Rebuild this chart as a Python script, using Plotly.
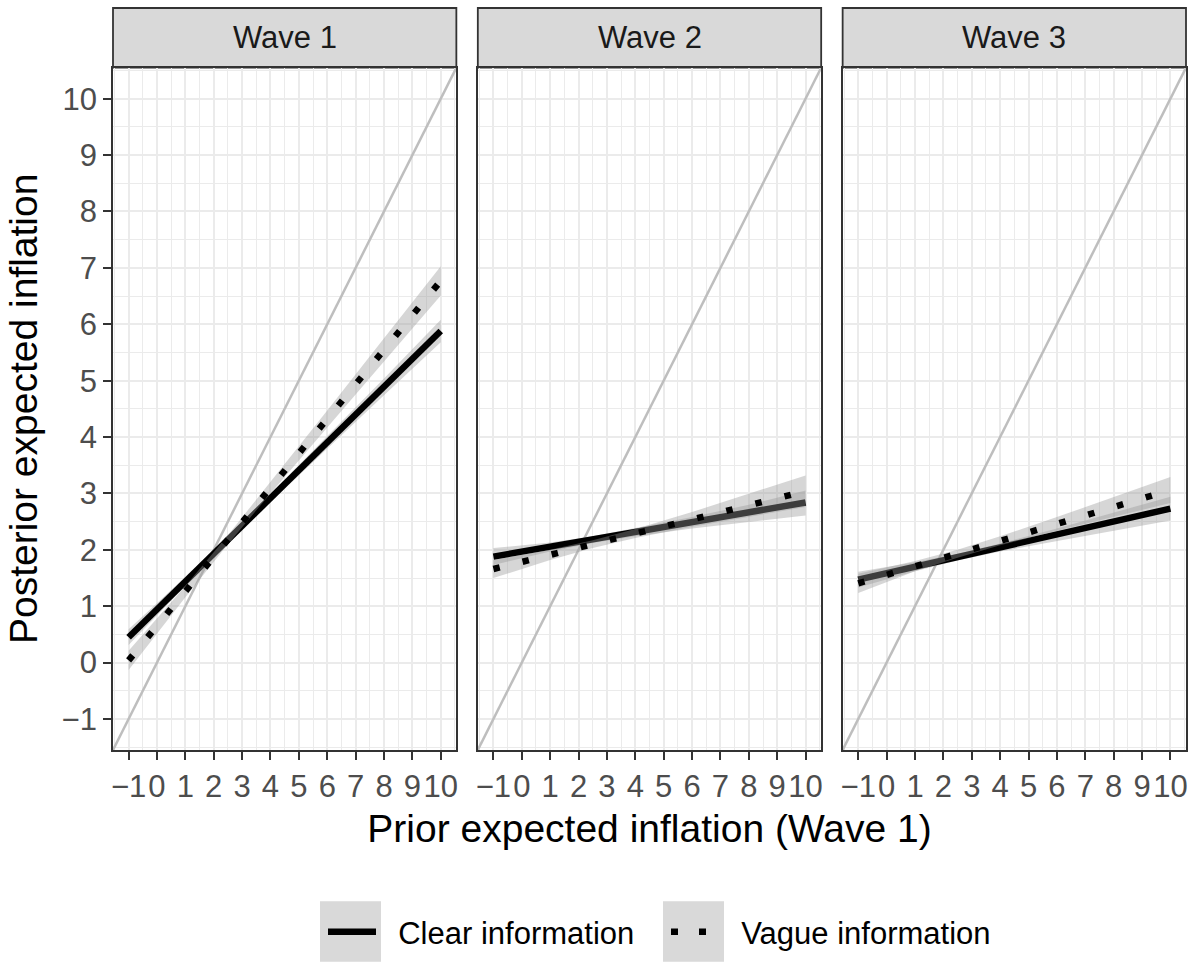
import plotly.graph_objects as go

# ---------------- data ----------------
waves = ["Wave 1", "Wave 2", "Wave 3"]
series_names = ["Clear information", "Vague information"]
x_ticks = [-1, 0, 1, 2, 3, 4, 5, 6, 7, 8, 9, 10]
y_ticks = [-1, 0, 1, 2, 3, 4, 5, 6, 7, 8, 9, 10]

# fitted lines (linear smooth) at the ends of the data range
fit_x = [-1, 10]
w1_clear = [0.45, 5.88]
w1_vague = [0.04, 6.77]
w2_clear = [1.88, 2.84]
w2_vague = [1.66, 3.04]
w3_clear = [1.47, 2.73]
w3_vague = [1.405, 3.06]

# confidence bands
band_x = [-1, 1, 2.5, 4, 6, 8, 10]
w1_clear_lo = [0.31, 1.36, 2.12, 2.85, 3.80, 4.74, 5.68]
w1_clear_hi = [0.59, 1.52, 2.24, 2.99, 4.02, 5.04, 6.08]
w1_vague_lo = [-0.13, 1.16, 2.10, 3.00, 4.17, 5.35, 6.51]
w1_vague_hi = [0.21, 1.36, 2.26, 3.20, 4.47, 5.75, 7.03]
w2_clear_lo = [1.73, 1.97, 2.12, 2.24, 2.38, 2.50, 2.61]
w2_clear_hi = [2.03, 2.13, 2.24, 2.38, 2.58, 2.80, 3.05]
w2_vague_lo = [1.50, 1.82, 2.03, 2.21, 2.41, 2.59, 2.76]
w2_vague_hi = [1.82, 2.00, 2.17, 2.37, 2.67, 2.99, 3.32]
w3_clear_lo = [1.33, 1.62, 1.81, 1.97, 2.16, 2.34, 2.52]
w3_clear_hi = [1.61, 1.78, 1.93, 2.11, 2.38, 2.66, 2.94]
w3_vague_lo = [1.235, 1.62, 1.86, 2.08, 2.34, 2.59, 2.83]
w3_vague_hi = [1.575, 1.80, 2.00, 2.24, 2.58, 2.93, 3.29]

# 45-degree reference line (intercept 0, slope 1)
ref_x = [-3, 12]
ref_y = [-3, 12]

# ---------------- figure ----------------
FONT = "Liberation Sans, Arial, Helvetica, sans-serif"
BAND = "rgba(153,153,153,0.4)"
LW = 6.5
DOT = "6.5px,23.5px"

panels = [
    (w1_clear, w1_vague, w1_clear_lo, w1_clear_hi, w1_vague_lo, w1_vague_hi),
    (w2_clear, w2_vague, w2_clear_lo, w2_clear_hi, w2_vague_lo, w2_vague_hi),
    (w3_clear, w3_vague, w3_clear_lo, w3_clear_hi, w3_vague_lo, w3_vague_hi),
]

fig = go.Figure()
for i, (c, v, clo, chi, vlo, vhi) in enumerate(panels):
    xa = "x" if i == 0 else f"x{i+1}"
    ya = "y" if i == 0 else f"y{i+1}"
    fig.add_trace(go.Scatter(x=ref_x, y=ref_y, mode="lines", xaxis=xa, yaxis=ya,
                             line=dict(color="#BEBEBE", width=2.5),
                             showlegend=False, hoverinfo="skip"))
    fig.add_trace(go.Scatter(x=band_x + band_x[::-1], y=chi + clo[::-1],
                             mode="lines", fill="toself", fillcolor=BAND,
                             line=dict(width=0), xaxis=xa, yaxis=ya,
                             showlegend=False, hoverinfo="skip"))
    fig.add_trace(go.Scatter(x=fit_x, y=c, mode="lines", xaxis=xa, yaxis=ya,
                             line=dict(color="black", width=LW),
                             name=series_names[0], showlegend=False))
    fig.add_trace(go.Scatter(x=band_x + band_x[::-1], y=vhi + vlo[::-1],
                             mode="lines", fill="toself", fillcolor=BAND,
                             line=dict(width=0), xaxis=xa, yaxis=ya,
                             showlegend=False, hoverinfo="skip"))
    fig.add_trace(go.Scatter(x=fit_x, y=v, mode="lines", xaxis=xa, yaxis=ya,
                             line=dict(color="black", width=LW, dash=DOT),
                             name=series_names[1], showlegend=False))

# legend entries (non-breaking spaces give the gap between key and label)
NB = "\u00a0\u00a0"
fig.add_trace(go.Scatter(x=[None], y=[None], mode="lines", name=NB + series_names[0],
                         line=dict(color="black", width=LW)))
fig.add_trace(go.Scatter(x=[None], y=[None], mode="lines", name=NB + series_names[1],
                         line=dict(color="black", width=LW, dash="7px,21px")))

L, R, T, B = 113, 13, 8, 213
W, H = 1199, 967
pw = W - L - R
ph = H - T - B
strip_bottom = (754 - 68) / ph
domains = [[0.0, 0.32], [0.34, 0.66], [0.68, 1.0]]

axis_common = dict(
    showline=True, mirror=True, linecolor="#333333", linewidth=1.8,
    showgrid=True, gridcolor="#EBEBEB", gridwidth=2.0,
    zeroline=False, ticks="outside", ticklen=8, tickwidth=1.8, tickcolor="#333333",
    tickfont=dict(family=FONT, size=31, color="#4D4D4D"),
    range=[-1.55, 10.55], tickmode="linear", tick0=0, dtick=1,
    minor=dict(dtick=0.5, tick0=0.5, showgrid=True, gridcolor="#EBEBEB", gridwidth=1.0, ticks=""),
)

layout = dict(
    width=W, height=H, margin=dict(l=L, r=R, t=T, b=B),
    paper_bgcolor="white", plot_bgcolor="white",
    font=dict(family=FONT, color="black"),
    showlegend=True,
    legend=dict(orientation="h", x=(323 - L) / pw, xanchor="left",
                y=(754 - 937) / ph, yanchor="middle",
                font=dict(family=FONT, size=31, color="black"),
                bgcolor="rgba(0,0,0,0)", itemwidth=48,
                entrywidth=280, entrywidthmode="pixels", tracegroupgap=0),
)
for i in range(3):
    sfx = "" if i == 0 else str(i + 1)
    xa = dict(axis_common, domain=domains[i], tickangle=0)
    ya = dict(axis_common, domain=[0, strip_bottom])
    if i > 0:
        ya.update(matches="y", showticklabels=False, ticks="")
        xa.update(anchor=f"y{sfx}")
        ya.update(anchor=f"x{sfx}")
    layout["xaxis" + sfx] = xa
    layout["yaxis" + sfx] = ya

layout["xaxis2"]["title"] = dict(text="Prior expected inflation (Wave 1)",
                                 font=dict(family=FONT, size=39, color="black"), standoff=12)
layout["yaxis"]["title"] = dict(text="Posterior expected inflation",
                                font=dict(family=FONT, size=39, color="black"), standoff=12)

fig.update_layout(**layout)

# facet strips
for i, wname in enumerate(waves):
    x0, x1 = domains[i]
    fig.add_shape(type="rect", xref="paper", yref="paper", x0=x0, x1=x1,
                  y0=strip_bottom, y1=1.0, fillcolor="#D9D9D9",
                  line=dict(color="#333333", width=1.8), layer="below")
    fig.add_annotation(xref="paper", yref="paper", x=(x0 + x1) / 2,
                       y=(strip_bottom + 1.0) / 2, text=wname, showarrow=False,
                       font=dict(family=FONT, size=31, color="#1A1A1A"),
                       xanchor="center", yanchor="middle")

# grey legend key backgrounds
for kx in (320, 663):
    fig.add_shape(type="rect", xref="paper", yref="paper",
                  x0=(kx - L) / pw, x1=(kx + 61 - L) / pw,
                  y0=(754 - 967) / ph, y1=(754 - 906) / ph,
                  fillcolor="#D9D9D9", line=dict(width=0), layer="below")

fig.write_html("out.html")
